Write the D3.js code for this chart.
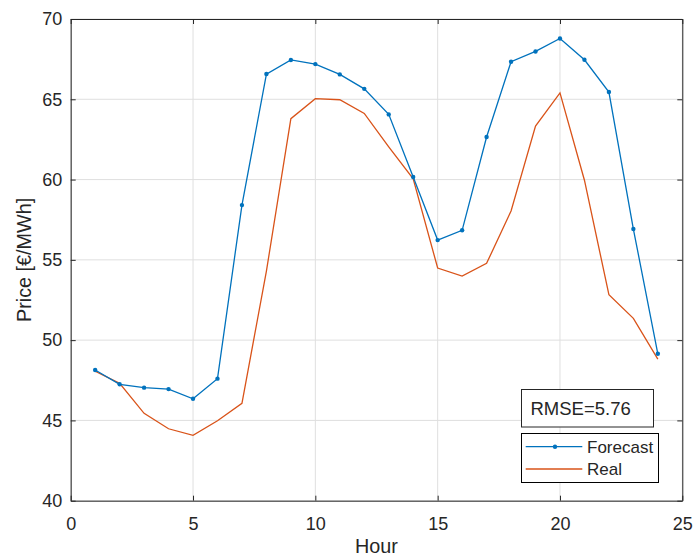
<!DOCTYPE html>
<html>
<head>
<meta charset="utf-8">
<script src="https://cdn.jsdelivr.net/npm/d3@7"></script>
<style>
  body { margin: 0; background: #fff; }
  text { font-family: "Liberation Sans", Arial, sans-serif; fill: #262626; }
</style>
</head>
<body>
<div id="chart"></div>
<script>
// data
var hours = [1, 2, 3, 4, 5, 6, 7, 8, 9, 10, 11, 12, 13, 14, 15, 16, 17, 18, 19, 20, 21, 22, 23, 24];
var forecast = [48.14, 47.25, 47.04, 46.95, 46.35, 47.6, 58.41, 66.57, 67.45, 67.19, 66.55, 65.65, 64.06, 60.16,
                56.23, 56.84, 62.65, 67.34, 67.98, 68.79, 67.46, 65.45, 56.92, 49.15];
var real = [48.06, 47.31, 45.44, 44.48, 44.07, 44.98, 46.06, 54.3, 63.79, 65.04, 64.97, 64.12, 62.04, 60.05,
            54.49, 53.99, 54.78, 58.04, 63.33, 65.4, 59.96, 52.83, 51.36, 48.82];
var xTicks = [0, 5, 10, 15, 20, 25];
var yTicks = [40, 45, 50, 55, 60, 65, 70];
var rmseText = "RMSE=5.76";
var seriesNames = ["Forecast", "Real"];

// size and margins
var svgWidth = 694;
var svgHeight = 558;
var margin = { top: 19, right: 11.7, bottom: 57.3, left: 70.7 };
var width = svgWidth - margin.left - margin.right;
var height = svgHeight - margin.top - margin.bottom;

var blue = "#0072bd";
var orange = "#d95319";
var axisColor = "#262626";

var svg = d3.select("#chart").append("svg")
    .attr("width", svgWidth)
    .attr("height", svgHeight);

var chartGroup = svg.append("g")
    .attr("transform", `translate(${margin.left}, ${margin.top})`);

var xScale = d3.scaleLinear().domain([0, 25]).range([0, width]);
var yScale = d3.scaleLinear().domain([40, 70]).range([height, 0]);

// grid
chartGroup.append("g").selectAll("line")
    .data(xTicks)
    .enter().append("line")
    .attr("x1", d => xScale(d)).attr("x2", d => xScale(d))
    .attr("y1", 0).attr("y2", height)
    .attr("stroke", "#dfdfdf").attr("stroke-width", 1);
chartGroup.append("g").selectAll("line")
    .data(yTicks)
    .enter().append("line")
    .attr("x1", 0).attr("x2", width)
    .attr("y1", d => yScale(d)).attr("y2", d => yScale(d))
    .attr("stroke", "#dfdfdf").attr("stroke-width", 1);

// lines
var line = d3.line()
    .x((d, i) => xScale(hours[i]))
    .y(d => yScale(d));

chartGroup.append("path")
    .datum(real)
    .attr("d", line)
    .attr("fill", "none")
    .attr("stroke", orange)
    .attr("stroke-width", 1.3);

chartGroup.append("path")
    .datum(forecast)
    .attr("d", line)
    .attr("fill", "none")
    .attr("stroke", blue)
    .attr("stroke-width", 1.3);

chartGroup.selectAll(".dot")
    .data(forecast)
    .enter().append("circle")
    .attr("class", "dot")
    .attr("cx", (d, i) => xScale(hours[i]))
    .attr("cy", d => yScale(d))
    .attr("r", 2.2)
    .attr("fill", blue);

// axes (ticks pointing inward)
var bottomAxis = d3.axisBottom(xScale).tickValues(xTicks).tickSizeInner(-5).tickSizeOuter(0).tickPadding(16.5);
var leftAxis = d3.axisLeft(yScale).tickValues(yTicks).tickSizeInner(-5).tickSizeOuter(0).tickPadding(8.5);
var topAxis = d3.axisTop(xScale).tickValues(xTicks).tickSizeInner(-5).tickSizeOuter(0).tickFormat("");
var rightAxis = d3.axisRight(yScale).tickValues(yTicks).tickSizeInner(-5).tickSizeOuter(0).tickFormat("");

function styleAxis(g) {
  g.selectAll("path").attr("stroke", axisColor);
  g.selectAll("line").attr("stroke", axisColor);
  g.selectAll("text")
    .style("font-family", "'Liberation Sans', Arial, sans-serif")
    .style("font-size", "18px")
    .attr("fill", axisColor);
}

chartGroup.append("g")
    .attr("transform", `translate(0, ${height})`)
    .call(bottomAxis).call(styleAxis);
chartGroup.append("g")
    .call(leftAxis).call(styleAxis);
chartGroup.append("g")
    .call(topAxis).call(styleAxis);
chartGroup.append("g")
    .attr("transform", `translate(${width}, 0)`)
    .call(rightAxis).call(styleAxis);

// axis labels
chartGroup.append("text")
    .attr("transform", `translate(${-margin.left + 31}, ${height / 2}) rotate(-90)`)
    .attr("text-anchor", "middle")
    .style("font-size", "19.8px")
    .text("Price [€/MWh]");

chartGroup.append("text")
    .attr("x", width / 2)
    .attr("y", height + 52.5)
    .attr("text-anchor", "middle")
    .style("font-size", "19.8px")
    .text("Hour");

// RMSE annotation box
var rmseBox = svg.append("g");
rmseBox.append("rect")
    .attr("x", 521.5).attr("y", 389.5)
    .attr("width", 132).attr("height", 37.5)
    .attr("fill", "#fff")
    .attr("stroke", axisColor).attr("stroke-width", 1);
rmseBox.append("text")
    .attr("x", 530.5).attr("y", 414.5)
    .style("font-size", "18.5px")
    .text(rmseText);

// legend
var legend = svg.append("g");
legend.append("rect")
    .attr("x", 521.5).attr("y", 433.5)
    .attr("width", 137).attr("height", 49)
    .attr("fill", "#fff")
    .attr("stroke", "#000").attr("stroke-width", 1);

var legendColors = [blue, orange];
var legendRows = legend.selectAll(".row")
    .data(seriesNames)
    .enter().append("g")
    .attr("class", "row")
    .attr("transform", (d, i) => `translate(0, ${446.7 + i * 22.3})`);

legendRows.append("line")
    .attr("x1", 525.7).attr("x2", 582.3)
    .attr("y1", 0).attr("y2", 0)
    .attr("stroke", (d, i) => legendColors[i])
    .attr("stroke-width", 1.3);

legendRows.filter((d, i) => i === 0).append("circle")
    .attr("cx", 555).attr("cy", 0).attr("r", 2.2)
    .attr("fill", blue);

legendRows.append("text")
    .attr("x", 587)
    .attr("y", 0)
    .attr("dy", "0.35em")
    .style("font-size", "17px")
    .text(d => d);
</script>
</body>
</html>
